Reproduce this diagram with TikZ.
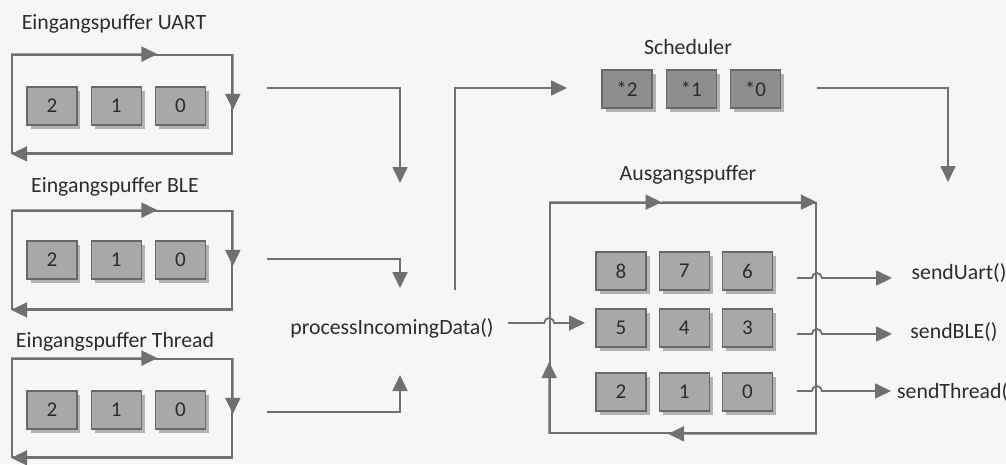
\documentclass[tikz,border=0pt]{standalone}
\usepackage{fontspec}
\setmainfont{Carlito}
\usepackage{xcolor}
\usepackage{tikz}
\usetikzlibrary{arrows.meta,positioning,calc,shadows}
\definecolor{bufPaper}{HTML}{F6F6F6}
\definecolor{bufLine}{HTML}{707070}
\definecolor{bufCell}{HTML}{A8A8A8}
\definecolor{bufSched}{HTML}{8E8E8E}
\definecolor{bufEdge}{HTML}{686868}
\definecolor{bufShadow}{HTML}{B2B2B2}
\definecolor{bufText}{HTML}{2C2C2C}
\tikzset{
  cell/.style={rectangle, draw=bufEdge, fill=bufCell, line width=0.7pt, minimum width=1cm, minimum height=0.76cm, inner sep=0pt, font=\fontsize{12}{14}\selectfont, text=bufText, drop shadow={shadow xshift=0.07cm, shadow yshift=-0.07cm, fill=bufShadow, opacity=1}},
  schedcell/.style={cell, fill=bufSched},
  ring/.style={rectangle, draw=bufLine, line width=1pt, minimum width=4.4cm, minimum height=1.96cm},
  title/.style={font=\fontsize{12.4}{14}\selectfont, text=bufText},
  flow/.style={draw=bufLine, line width=1pt},
  arrow/.style={flow, -{Triangle[length=0.32cm, width=0.3cm]}}
}
\begin{document}
\begin{tikzpicture}[x=0.02cm, y=-0.02cm]
\fill[bufPaper] (0,0) rectangle (1006,464);
\useasboundingbox (0,0) rectangle (1006,464);
% input buffers
\node[title] (uTitle) at (114,24) {Eingangspuffer UART};
\node[ring] (uRing) at (122,104) {};
\node[cell] (u2) at (52,106) {2};
\node[cell, right=0.26cm of u2] (u1) {1};
\node[cell, right=0.26cm of u1] (u0) {0};
\draw[arrow] (uRing.north west) -- ($(uRing.north west)!0.66!(uRing.north east)$);
\draw[arrow] (uRing.north east) -- ($(uRing.north east)!0.56!(uRing.south east)$);
\draw[arrow] (uRing.south east) -- (uRing.south west);
\node[title] (bTitle) at (115,187) {Eingangspuffer BLE};
\node[ring] (bRing) at (122,260) {};
\node[cell] (b2) at (52,260) {2};
\node[cell, right=0.26cm of b2] (b1) {1};
\node[cell, right=0.26cm of b1] (b0) {0};
\draw[arrow] (bRing.north west) -- ($(bRing.north west)!0.66!(bRing.north east)$);
\draw[arrow] (bRing.north east) -- ($(bRing.north east)!0.56!(bRing.south east)$);
\draw[arrow] (bRing.south east) -- (bRing.south west);
\node[title] (tTitle) at (115,342) {Eingangspuffer Thread};
\node[ring] (tRing) at (122,408) {};
\node[cell] (t2) at (52,410) {2};
\node[cell, right=0.26cm of t2] (t1) {1};
\node[cell, right=0.26cm of t1] (t0) {0};
\draw[arrow] (tRing.north west) -- ($(tRing.north west)!0.66!(tRing.north east)$);
\draw[arrow] (tRing.north east) -- ($(tRing.north east)!0.56!(tRing.south east)$);
\draw[arrow] (tRing.south east) -- (tRing.south west);
% processing
\node[title] (proc) at (392,328) {processIncomingData()};
\coordinate (uOut) at (267,88);
\coordinate (uDrop) at (400,183);
\coordinate (bOut) at (267,259);
\coordinate (bDrop) at (400,288);
\coordinate (tOut) at (267,412);
\coordinate (tRise) at (400,375);
\draw[arrow] (uOut) -| (uDrop);
\draw[arrow] (bOut) -| (bDrop);
\draw[arrow] (tOut) -| (tRise);
% scheduler
\node[title] (sTitle) at (688,47) {Scheduler};
\node[schedcell] (s2) at (627,89) {*2};
\node[schedcell, right=0.26cm of s2] (s1) {*1};
\node[schedcell, right=0.26cm of s1] (s0) {*0};
\coordinate (pUp) at (455,290);
\coordinate (sIn) at (567,88);
\draw[arrow] (pUp) |- (sIn);
\coordinate (sOut) at (817,88);
\coordinate (sDrop) at (948,182);
\draw[arrow] (sOut) -| (sDrop);
% output buffer
\node[title] (oTitle) at (688,175) {Ausgangspuffer};
\node[ring, minimum width=5.32cm, minimum height=4.6cm] (oRing) at (683,318) {};
\node[cell] (o8) at (621,271) {8};
\node[cell, right=0.24cm of o8] (o7) {7};
\node[cell, right=0.24cm of o7] (o6) {6};
\node[cell] (o5) at (621,328) {5};
\node[cell, right=0.24cm of o5] (o4) {4};
\node[cell, right=0.24cm of o4] (o3) {3};
\node[cell] (o2) at (621,392) {2};
\node[cell, right=0.24cm of o2] (o1) {1};
\node[cell, right=0.24cm of o1] (o0) {0};
\draw[arrow] (oRing.north west) -- ($(oRing.north west)!0.42!(oRing.north east)$);
\draw[arrow] ($(oRing.north west)!0.42!(oRing.north east)$) -- (oRing.north east);
\draw[arrow] (oRing.south east) -- ($(oRing.south east)!0.556!(oRing.south west)$);
\draw[arrow] (oRing.south west) -- ($(oRing.south west)!0.31!(oRing.north west)$);
\coordinate (pOut) at (508,323);
\coordinate (oIn) at (585,323);
\draw[arrow] (pOut) -- ([xshift=-0.1cm]oRing.west |- pOut) arc[start angle=180, end angle=360, radius=5] -- (oIn);
% senders
\node[title] (sendU) at (959,273) {sendUart()};
\node[title] (sendB) at (954,332) {sendBLE()};
\node[title, anchor=west] (sendT) at (891,392) {sendThread(};
\coordinate (oUart) at (797,278);
\coordinate (oBle) at (797,334);
\coordinate (oThread) at (797,391);
\coordinate (uTip) at (892,278);
\coordinate (bTip) at (892,334);
\draw[arrow] (oUart) -- ([xshift=-0.1cm]oRing.east |- oUart) arc[start angle=180, end angle=360, radius=5] -- (uTip);
\draw[arrow] (oBle) -- ([xshift=-0.1cm]oRing.east |- oBle) arc[start angle=180, end angle=360, radius=5] -- (bTip);
\draw[arrow] (oThread) -- ([xshift=-0.1cm]oRing.east |- oThread) arc[start angle=180, end angle=360, radius=5] -- (oThread -| sendT.west);
\end{tikzpicture}
\end{document}
